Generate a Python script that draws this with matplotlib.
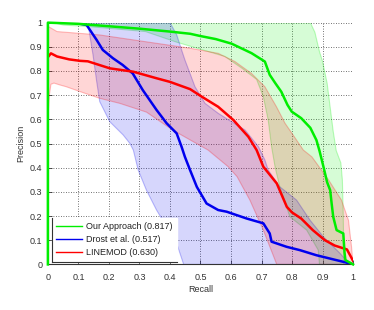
import matplotlib
matplotlib.use('Agg')
import matplotlib.pyplot as plt
import numpy as np
from matplotlib.lines import Line2D

plt.rcParams['font.family'] = ['Liberation Sans', 'DejaVu Sans']

# main curves (recall, precision)
ours_x = [0, 0, 0.1, 0.2, 0.3, 0.4, 0.466, 0.498, 0.55, 0.602, 0.667, 0.711, 0.727, 0.745, 0.765,
          0.785, 0.799, 0.83, 0.86, 0.88, 0.89, 0.903, 0.915, 0.925, 0.93, 0.935, 0.946, 0.968,
          0.972, 0.975, 1.0]
ours_y = [0, 1.0, 0.995, 0.985, 0.975, 0.963, 0.954, 0.945, 0.932, 0.913, 0.874, 0.839, 0.784,
          0.75, 0.714, 0.66, 0.632, 0.605, 0.565, 0.514, 0.47, 0.404, 0.34, 0.307, 0.25, 0.197,
          0.142, 0.128, 0.05, 0.018, 0.0]

drost_x = [0.088, 0.127, 0.16, 0.18, 0.213, 0.245, 0.278, 0.311, 0.356, 0.389, 0.422, 0.438,
           0.449, 0.466, 0.488, 0.52, 0.558, 0.586, 0.651, 0.706, 0.727, 0.733, 0.782, 0.826,
           0.88, 0.935, 0.99, 1.0]
drost_y = [1.0, 0.99, 0.928, 0.887, 0.853, 0.825, 0.79, 0.721, 0.639, 0.584, 0.542, 0.487,
           0.445, 0.39, 0.321, 0.252, 0.225, 0.218, 0.19, 0.17, 0.128, 0.094, 0.073, 0.059,
           0.038, 0.021, 0.004, 0.0]

linemod_x = [0, 0.01, 0.03, 0.07, 0.105, 0.131, 0.203, 0.28, 0.356, 0.40, 0.466, 0.504, 0.558,
             0.608, 0.657, 0.684, 0.706, 0.75, 0.783, 0.8, 0.83, 0.868, 0.908, 0.94, 0.98, 1.0]
linemod_y = [0.857, 0.873, 0.86, 0.848, 0.842, 0.84, 0.811, 0.797, 0.77, 0.755, 0.725, 0.694,
             0.652, 0.597, 0.528, 0.473, 0.404, 0.335, 0.238, 0.215, 0.19, 0.142, 0.1, 0.078,
             0.062, 0.015]

# spread bands: upper edge then lower edge
ours_up_x = [0.02, 0.86, 0.875, 0.89, 0.9, 0.915, 0.925, 0.935, 0.945, 0.96, 0.965, 0.968, 0.97]
ours_up_y = [1.0, 1.0, 0.96, 0.88, 0.84, 0.75, 0.65, 0.55, 0.47, 0.42, 0.35, 0.2, 0.0]
ours_lo_x = [0.02, 0.05, 0.14, 0.32, 0.42, 0.5, 0.58, 0.635, 0.684, 0.706, 0.722, 0.733, 0.745,
             0.76, 0.793, 0.848, 0.886, 0.89]
ours_lo_y = [1.0, 0.99, 0.983, 0.963, 0.92, 0.89, 0.86, 0.812, 0.765, 0.694, 0.597, 0.487, 0.4,
             0.321, 0.197, 0.142, 0.059, 0.0]

drost_up_x = [0.12, 0.40, 0.422, 0.44, 0.449, 0.482, 0.515, 0.558, 0.602, 0.646, 0.69, 0.711,
              0.722, 0.76, 0.815, 0.859, 0.903, 0.958, 0.99]
drost_up_y = [1.0, 1.0, 0.95, 0.88, 0.846, 0.735, 0.666, 0.625, 0.59, 0.556, 0.487, 0.432,
              0.39, 0.321, 0.266, 0.183, 0.114, 0.045, 0.0]
drost_lo_x = [0.12, 0.132, 0.148, 0.16, 0.17, 0.203, 0.247, 0.269, 0.28, 0.296, 0.323, 0.356,
              0.389, 0.422, 0.445]
drost_lo_y = [1.0, 0.99, 0.866, 0.756, 0.673, 0.59, 0.535, 0.5, 0.473, 0.39, 0.307, 0.225,
              0.156, 0.087, 0.0]

linemod_up_x = [0, 0.03, 0.17, 0.466, 0.558, 0.613, 0.667, 0.711, 0.749, 0.777, 0.815, 0.837,
                0.865, 0.92, 0.962, 0.985, 0.995, 1.0]
linemod_up_y = [0.985, 0.963, 0.949, 0.894, 0.873, 0.839, 0.79, 0.735, 0.652, 0.584, 0.514,
                0.473, 0.445, 0.349, 0.266, 0.183, 0.073, 0.0]
linemod_lo_x = [0, 0.005, 0.01, 0.02, 0.04, 0.06, 0.105, 0.17, 0.236, 0.323, 0.41, 0.525, 0.591,
                0.62, 0.662, 0.706, 0.75]
linemod_lo_y = [0.6, 0.70, 0.745, 0.75, 0.742, 0.735, 0.715, 0.687, 0.666, 0.63, 0.555, 0.473,
                0.404, 0.363, 0.266, 0.142, 0.0]

labels = ['Our Approach (0.817)', 'Drost et al. (0.517)', 'LINEMOD (0.630)']
colors = ['#00ee00', '#0000ee', '#ff0000']

fig = plt.figure(figsize=(3.74, 3.10), dpi=100)
ax = fig.add_axes([0.128, 0.147, 0.816, 0.78])

bands = [(ours_up_x, ours_up_y, ours_lo_x, ours_lo_y),
         (drost_up_x, drost_up_y, drost_lo_x, drost_lo_y),
         (linemod_up_x, linemod_up_y, linemod_lo_x, linemod_lo_y)]
for (ux, uy, lx, ly), c in zip(bands, colors):
    px = np.concatenate([ux, lx[::-1]])
    py = np.concatenate([uy, ly[::-1]])
    ax.fill(px, py, facecolor=c, alpha=0.16, edgecolor='none', zorder=2)
    ax.fill(px, py, facecolor='none', edgecolor=c, alpha=0.25, lw=0.8, zorder=2)

ax.plot(drost_x, drost_y, color=colors[1], lw=1.8, zorder=4)
ax.plot(linemod_x, linemod_y, color=colors[2], lw=1.8, zorder=5)
ax.plot(ours_x, ours_y, color=colors[0], lw=1.8, zorder=6, clip_on=False)

ticks = np.round(np.arange(0, 1.01, 0.1), 1)
ticklabels = ['0'] + ['%.1f' % t for t in ticks[1:-1]] + ['1']
ax.set_xlim(0, 1)
ax.set_ylim(0, 1)
ax.set_xticks(ticks)
ax.set_xticklabels(ticklabels)
ax.set_yticks(ticks)
ax.set_yticklabels(ticklabels)
ax.tick_params(direction='in', length=3, width=0.6, labelsize=6.5, colors='#333333', pad=4)
ax.tick_params(axis='x', pad=6)
ax.grid(True, color='#444444', linestyle=(0, (1, 2)), linewidth=0.6, zorder=1)
ax.set_axisbelow(True)
for s in ['top', 'right']:
    ax.spines[s].set_visible(False)
for s in ['left', 'bottom']:
    ax.spines[s].set_color('#333333')
    ax.spines[s].set_linewidth(0.8)
ax.set_xlabel('Recall', fontsize=6.5, color='#333333', labelpad=2)
ax.set_ylabel('Precision', fontsize=6.5, color='#333333', labelpad=3)

handles = [Line2D([], [], color=c, lw=1.0) for c in colors]
leg = ax.legend(handles, labels, loc='lower left', bbox_to_anchor=(0.012, 0.012),
                fontsize=6.5, frameon=True, fancybox=False, edgecolor='white',
                framealpha=1, handlelength=2.9, handletextpad=0.5, borderpad=0.45,
                labelspacing=0.45, borderaxespad=0)
leg.set_zorder(10)
for t in leg.get_texts():
    t.set_color('#222222')

fig.canvas.draw()
bb = leg.get_window_extent().transformed(fig.transFigure.inverted())
fig.add_artist(Line2D([bb.x0, bb.x0], [bb.y0, bb.y1], color='#333333', lw=0.8, zorder=11))
fig.add_artist(Line2D([bb.x0, bb.x1], [bb.y0, bb.y0], color='#333333', lw=0.8, zorder=11))

fig.savefig('out.png', dpi=100)
